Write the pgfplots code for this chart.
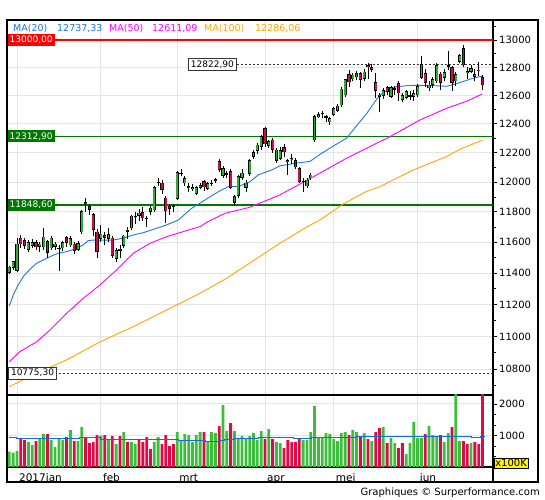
\documentclass[border=0pt]{standalone}
\usepackage{fontspec}
\setmainfont{DejaVu Sans}
\usepackage{pgfplots}
\pgfplotsset{compat=1.18}
\usepackage{pgfplotstable}

\definecolor{cgreen}{RGB}{45,175,45}
\definecolor{cred}{RGB}{215,10,70}
\definecolor{vgreen}{RGB}{60,190,60}
\definecolor{vred}{RGB}{220,10,70}
\definecolor{ma20}{RGB}{30,120,215}
\definecolor{ma50}{RGB}{255,0,255}
\definecolor{ma100}{RGB}{255,165,0}
\definecolor{lvlgreen}{RGB}{0,120,0}
\definecolor{gridgray}{RGB}{228,228,228}
\definecolor{vavg}{RGB}{20,110,210}

\pgfplotstableread{
j o h l c
0 11400 11448 11392 11440
1 11432 11480 11420 11475
2 11415 11625 11405 11590
3 11630 11650 11560 11585
4 11612 11625 11555 11578
5 11548 11612 11538 11602
6 11575 11618 11560 11600
7 11600 11612 11550 11565
8 11570 11600 11535 11590
9 11565 11690 11550 11636
10 11605 11615 11500 11530
11 11560 11640 11550 11630
12 11570 11600 11550 11590
13 11556 11580 11415 11560
14 11560 11610 11540 11598
15 11632 11642 11570 11597
16 11580 11640 11570 11628
17 11590 11600 11520 11545
18 11550 11610 11540 11595
19 11665 11815 11655 11805
20 11866 11890 11800 11849
21 11838 11850 11780 11815
22 11785 11790 11640 11681
23 11670 11685 11500 11535
24 11620 11710 11600 11655
25 11645 11670 11580 11627
26 11620 11690 11600 11651
27 11630 11640 11495 11509
28 11490 11560 11470 11549
29 11558 11580 11500 11543
30 11575 11650 11560 11643
31 11682 11700 11620 11667
32 11690 11780 11680 11774
33 11765 11800 11720 11771
34 11772 11820 11740 11794
35 11800 11830 11740 11757
36 11752 11770 11700 11757
37 11800 11840 11780 11828
38 11810 11975 11800 11967
39 11990 12030 11970 11998
40 11995 12010 11920 11948
41 11895 11905 11725 11804
42 11840 11850 11780 11822
43 11830 11850 11800 11834
44 11885 12075 11880 12067
45 12062 12085 12040 12055
46 11990 12040 11975 12027
47 11970 11990 11930 11958
48 11955 11985 11940 11967
49 11920 11975 11910 11967
50 11960 11990 11950 11978
51 12005 12015 11940 11963
52 11955 12000 11945 11990
53 11995 12010 11970 11988
54 12015 12030 11990 12009
55 12140 12156 12070 12083
56 12040 12110 12030 12095
57 12050 12075 12030 12056
58 12075 12090 11950 11962
59 11860 11910 11840 11904
60 11905 12050 11895 12040
61 12030 12085 12015 12064
62 11960 12010 11930 11996
63 12055 12160 12040 12149
64 12170 12215 12160 12204
65 12210 12265 12190 12256
66 12240 12320 12220 12313
67 12370 12378 12240 12257
68 12245 12290 12230 12282
69 12290 12300 12200 12217
70 12145 12235 12130 12220
71 12160 12240 12150 12215
72 12240 12260 12170 12201
73 12150 12160 12050 12139
74 12165 12190 12120 12154
75 12150 12165 12090 12100
76 12095 12100 11990 12000
77 12000 12030 11935 12005
78 11970 12030 11960 12015
79 12025 12060 12015 12049
80 12285 12460 12275 12455
81 12445 12480 12440 12467
82 12470 12490 12440 12473
83 12450 12465 12410 12443
84 12410 12450 12395 12438
85 12465 12515 12455 12508
86 12490 12540 12480 12527
87 12530 12660 12520 12648
88 12600 12720 12590 12717
89 12750 12780 12660 12694
90 12715 12760 12700 12749
91 12730 12775 12710 12757
92 12758 12765 12655 12711
93 12717 12790 12700 12770
94 12817 12830 12720 12805
95 12805 12825 12770 12785
96 12693 12760 12585 12631
97 12605 12620 12480 12591
98 12598 12650 12575 12638
99 12660 12670 12600 12625
100 12590 12670 12580 12659
101 12650 12670 12600 12642
102 12688 12700 12560 12615
103 12570 12615 12555 12602
104 12585 12640 12575 12629
105 12590 12630 12570 12600
106 12590 12640 12560 12615
107 12600 12680 12590 12664
108 12725 12880 12715 12823
109 12760 12790 12660 12690
110 12650 12700 12630 12676
111 12675 12730 12650 12714
112 12700 12830 12690 12816
113 12755 12770 12640 12690
114 12725 12790 12700 12765
115 12812 12920 12780 12806
116 12800 12810 12630 12692
117 12700 12770 12670 12753
118 12840 12900 12830 12889
119 12940 12963 12805 12815
120 12760 12800 12720 12774
121 12770 12820 12760 12794
122 12752 12790 12700 12733
123 12785 12840 12740 12771
124 12730 12745 12640 12671
}\candles

\pgfplotstableread{
j v g
0 484 1
1 453 1
2 505 1
3 895 0
4 853 0
5 790 1
6 695 1
7 821 0
8 895 1
9 1042 1
10 1042 0
11 853 1
12 632 1
13 895 1
14 853 1
15 947 0
16 1168 1
17 821 0
18 821 1
19 1263 1
20 926 0
21 758 0
22 790 0
23 1010 0
24 990 1
25 1010 0
26 853 1
27 979 0
28 726 1
29 979 0
30 1105 1
31 790 0
32 790 1
33 726 1
34 853 0
35 790 0
36 947 0
37 568 0
38 790 1
39 947 1
40 726 0
41 1010 0
42 663 0
43 726 0
44 1105 1
45 853 1
46 1042 1
47 1010 1
48 790 1
49 1010 1
50 1105 1
51 1105 0
52 821 1
53 1105 1
54 1074 1
55 1295 0
56 1958 1
57 1137 1
58 1389 0
59 1137 1
60 884 1
61 979 1
62 884 1
63 979 1
64 1074 1
65 853 1
66 1137 1
67 884 0
68 1200 1
69 884 0
70 790 1
71 758 1
72 600 0
73 853 0
74 790 0
75 790 0
76 884 0
77 853 1
78 853 1
79 1105 1
80 1926 1
81 947 1
82 947 1
83 1074 1
84 1042 1
85 884 1
86 821 1
87 1074 1
88 1105 1
89 1010 0
90 1168 1
91 1105 1
92 979 0
93 1074 1
94 884 0
95 821 1
96 1105 0
97 1232 0
98 1263 1
99 758 0
100 916 1
101 758 1
102 600 0
103 758 0
104 411 1
105 758 1
106 1421 1
107 916 1
108 916 1
109 1042 0
110 1295 1
111 1010 1
112 979 1
113 1010 0
114 790 1
115 1074 1
116 1263 0
117 2400 1
118 821 1
119 821 0
120 726 0
121 758 1
122 790 0
123 726 0
124 2400 0
}\vol

\begin{document}
\begin{tikzpicture}
\useasboundingbox (0,0) rectangle (545bp,500bp);

\begin{axis}[
  at={(7bp,105bp)}, anchor=south west, scale only axis,
  width=486bp, height=375bp,
  xmin=-0.6, xmax=126.75,
  y coord trafo/.code={\pgfmathparse{1000*ln(#1/10000)}},
  ymin=10643, ymax=13147,
  axis line style={black, line width=1.1bp},
  xtick={2,24,44,67,85,107}, xticklabels={}, xtick style={draw=none},
  ytick={10800,11000,11200,11400,11600,11800,12000,12200,12400,12600,12800,13000},
  yticklabels={10800,11000,11200,11400,11600,11800,12000,12200,12400,12600,12800,13000},
  minor ytick={10700,10900,11100,11300,11500,11700,11900,12100,12300,12500,12700,12900,13100},
  ytick pos=right, yticklabel pos=right, tick align=outside,
  major tick length=4bp, minor tick length=3bp,
  ytick style={black, line width=0.6bp},
  yticklabel style={font=\fontsize{10bp}{12bp}\selectfont, inner xsep=2bp},
  grid=major, major grid style={gridgray, line width=0.8bp},
]
% level lines
\addplot[red, line width=2.2bp, forget plot] coordinates {(-0.6,13000) (126.75,13000)};
\addplot[lvlgreen, line width=1.2bp, forget plot] coordinates {(-0.6,12312.9) (126.75,12312.9)};
\addplot[lvlgreen, line width=2bp, forget plot] coordinates {(-0.6,11848.6) (126.75,11848.6)};
\addplot[black!80, line width=0.7bp, dash pattern=on 2bp off 2bp, forget plot] coordinates {(47,12822.9) (126.75,12822.9)};
\addplot[black!80, line width=0.7bp, dash pattern=on 2bp off 2bp, forget plot] coordinates {(-0.6,10775.3) (126.75,10775.3)};

% moving averages
\addplot[ma100, line width=0.9bp] coordinates {
(0,10693) (6.3,10764) (15,10855) (23.8,10967) (32.5,11061) (41.2,11165) (50,11271) (57,11367) (64,11480) (70.9,11593) (78,11700) (81.4,11746) (87.5,11852) (93.5,11935) (97.1,11969) (105.9,12082) (114.6,12173) (118.1,12224) (124,12286)};
\addplot[ma50, line width=0.9bp] coordinates {
(0,10845) (2.8,10906) (7.2,10967) (10.7,11040) (15,11144) (19.4,11239) (23.8,11324) (28.1,11420) (32.5,11528) (36.9,11593) (41.2,11636) (45.6,11669) (50,11702) (52.1,11735) (56.5,11790) (63,11830) (70.9,11913) (79.7,12036) (88.4,12162) (99.8,12311) (107.6,12427) (114.6,12509) (120,12560) (124,12611)};
\addplot[ma20, line width=0.9bp] coordinates {
(0,11190) (1.05,11260) (2.36,11324) (3.67,11377) (5.42,11424) (7.18,11463) (8.91,11484) (10.67,11506) (12.84,11528) (15.04,11538) (17.66,11560) (19.39,11582) (20.7,11610) (22,11614) (27.2,11614) (29.87,11626) (32.5,11647) (35.1,11662) (38.6,11691) (41.2,11713) (44.3,11746) (47.8,11824) (51.3,11879) (54.8,11935) (57.4,11969) (60,11969) (63.1,12002) (65.25,12048) (68.76,12082) (70.9,12109) (74.87,12127) (78.8,12140) (81.86,12196) (85.35,12253) (88.4,12300) (90.5,12370) (92.35,12430) (93.7,12474) (95.4,12540) (97.1,12603) (99.3,12640) (101.5,12662) (104.6,12670) (107.6,12672) (110.7,12670) (114.6,12665) (118,12690) (121.2,12720) (123.4,12735) (124,12737)};

% candles
\pgfplotsinvokeforeach{0,...,124}{%
  \pgfplotstablegetelem{#1}{o}\of\candles \let\vo\pgfplotsretval
  \pgfplotstablegetelem{#1}{h}\of\candles \let\vh\pgfplotsretval
  \pgfplotstablegetelem{#1}{l}\of\candles \let\vl\pgfplotsretval
  \pgfplotstablegetelem{#1}{c}\of\candles \let\vc\pgfplotsretval
  \pgfmathsetmacro\bb{min(\vo,\vc)}%
  \pgfmathsetmacro\bt{max(max(\vo,\vc),\bb+0.0007*\vc)}%
  \pgfmathsetmacro\fb{\bb*1.0004}%
  \pgfmathsetmacro\ft{max(\bt*0.9996,\fb)}%
  \ifdim\vc pt<\vo pt \def\bcol{cred}\else\def\bcol{cgreen}\fi
  \edef\doplot{%
    \noexpand\addplot[black, line width=0.8bp, forget plot] coordinates {(#1,\vl) (#1,\vh)};
    \noexpand\addplot[black, line width=3.2bp, forget plot] coordinates {(#1,\bb) (#1,\bt)};
    \noexpand\addplot[\bcol, line width=1.8bp, forget plot] coordinates {(#1,\fb) (#1,\ft)};
  }\doplot
}

% level boxes
\node[anchor=west, fill=red, text=white, inner xsep=2.5bp, inner ysep=0pt, minimum height=12bp, font=\fontsize{9bp}{11bp}\selectfont] at (axis cs:-0.6,13000) {13000,00};
\node[anchor=west, fill=lvlgreen, text=white, inner xsep=2.5bp, inner ysep=0pt, minimum height=12bp, font=\fontsize{9bp}{11bp}\selectfont] at (axis cs:-0.6,12312.9) {12312,90};
\node[anchor=west, fill=lvlgreen, text=white, inner xsep=2.5bp, inner ysep=0pt, minimum height=12bp, font=\fontsize{9bp}{11bp}\selectfont] at (axis cs:-0.6,11848.6) {11848,60};
\node[anchor=west, fill=white, draw=black!80, line width=0.8bp, inner xsep=2.5bp, inner ysep=0pt, minimum height=12bp, font=\fontsize{9bp}{11bp}\selectfont] at (axis cs:-0.3,10775.3) {10775,30};
\node[anchor=west, fill=white, draw=black!80, line width=0.8bp, inner xsep=2.5bp, inner ysep=0pt, minimum height=12bp, font=\fontsize{9bp}{11bp}\selectfont] at (axis cs:46.83,12822.9) {12822,90};
\end{axis}

\begin{axis}[
  at={(7bp,33bp)}, anchor=south west, scale only axis,
  width=486bp, height=72bp,
  xmin=-0.6, xmax=126.75,
  ymin=0, ymax=2280,
  axis line style={black, line width=1.1bp},
  xtick={2,24,44,67,85,107}, xticklabels={2017jan,feb,mrt,apr,mei,jun},
  xtick style={draw=none},
  xticklabel style={anchor=base west, inner xsep=0pt, xshift=2bp, yshift=-10.3bp, font=\fontsize{10.5bp}{12bp}\selectfont},
  ytick={1000,2000}, yticklabels={1000,2000},
  minor ytick={333,667,1333,1667},
  ytick pos=right, yticklabel pos=right, tick align=outside,
  major tick length=4bp, minor tick length=3bp,
  ytick style={black, line width=0.6bp},
  yticklabel style={font=\fontsize{10bp}{12bp}\selectfont, inner xsep=2bp},
  grid=major, major grid style={gridgray, line width=0.8bp},
]
\addplot[ybar, bar width=2.8bp, bar shift=0pt, fill=vgreen, draw=none,
  restrict expr to domain={\thisrow{g}}{0.5:1.5}] table[x=j, y=v] {\vol};
\addplot[ybar, bar width=2.8bp, bar shift=0pt, fill=vred, draw=none,
  restrict expr to domain={\thisrow{g}}{-0.5:0.5}] table[x=j, y=v] {\vol};
\addplot[vavg, line width=1bp, const plot] coordinates {
(-0.2,937) (2,905) (18.5,937) (24,874) (44.3,832) (51.3,800) (54.8,842) (56.5,874) (59.1,905) (65.2,937) (74.4,895) (79.2,937) (84,947) (91,968) (121.2,926) (123.4,968) (124.6,968)};
\end{axis}

% frame
\draw[line width=1.1bp] (7bp,18bp) rectangle (538bp,480bp);
\draw[line width=1.1bp] (493bp,33bp) -- (493bp,18bp);

% legend
\begin{scope}[every node/.style={anchor=base west, inner sep=0pt, font=\fontsize{9.5bp}{11bp}\selectfont}]
\node[text=ma20] at (13bp,468.5bp) {MA(20)};
\node[text=ma20] at (57bp,468.5bp) {12737,33};
\node[text=ma50] at (109bp,468.5bp) {MA(50)};
\node[text=ma50] at (152bp,468.5bp) {12611,09};
\node[text=ma100] at (204bp,468.5bp) {MA(100)};
\node[text=ma100] at (255bp,468.5bp) {12286,06};
\end{scope}

% volume unit box
\node[anchor=west, fill=yellow, draw=black, line width=0.5bp, inner xsep=1bp, inner ysep=1bp, font=\fontsize{10bp}{12bp}\selectfont] at (494bp,37bp) {x100K};

% credit
\node[anchor=base east, inner sep=0pt, font=\fontsize{10bp}{12bp}\selectfont] at (540bp,5bp) {Graphiques © Surperformance.com};
\end{tikzpicture}
\end{document}
